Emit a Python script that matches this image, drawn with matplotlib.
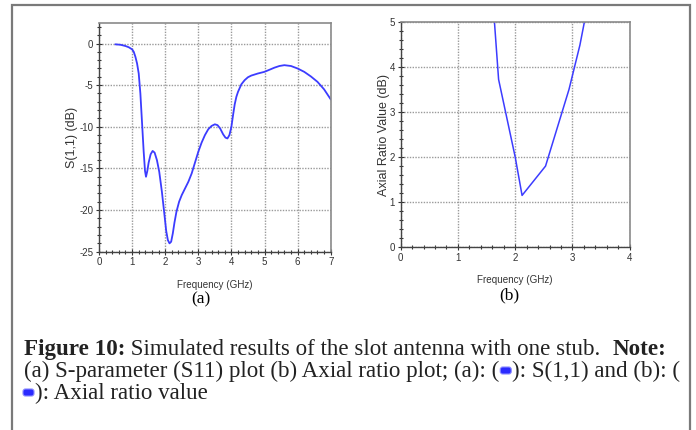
import matplotlib
matplotlib.use("Agg")
import matplotlib.pyplot as plt
from matplotlib.transforms import IdentityTransform
from matplotlib.patches import Rectangle, FancyBboxPatch
from matplotlib.ticker import MultipleLocator

plt.rcParams["axes.unicode_minus"] = False

# ---- data (a): S(1,1) ----
s11_freq = [0.5, 0.65, 0.8, 0.9, 1.0, 1.05, 1.1, 1.15, 1.2, 1.25, 1.3, 1.35, 1.39,
            1.42, 1.46, 1.5, 1.56, 1.62, 1.68, 1.75, 1.82, 1.9, 1.97, 2.03, 2.08,
            2.13, 2.18, 2.23, 2.28, 2.34, 2.42, 2.5, 2.6, 2.7, 2.8, 2.9, 3.0, 3.1,
            3.2, 3.3, 3.4, 3.5, 3.58, 3.66, 3.75, 3.82, 3.88, 3.94, 4.0, 4.05, 4.1,
            4.15, 4.2, 4.3, 4.4, 4.5, 4.6, 4.8, 5.0, 5.15, 5.3, 5.45, 5.6, 5.8, 6.0,
            6.2, 6.4, 6.6, 6.8, 7.0]
s11_db = [-0.1, -0.15, -0.3, -0.45, -0.7, -1.0, -1.6, -2.4, -3.6, -6.0, -9.5, -13.0,
          -15.3, -16.0, -15.3, -14.3, -13.3, -12.9, -13.1, -14.0, -15.4, -17.8,
          -20.3, -22.5, -23.6, -24.0, -23.8, -22.8, -21.5, -20.2, -19.0, -18.2,
          -17.4, -16.6, -15.6, -14.3, -13.0, -11.9, -11.0, -10.3, -9.9, -9.7, -9.8,
          -10.2, -10.9, -11.3, -11.4, -11.0, -10.0, -8.6, -7.3, -6.4, -5.8, -4.9,
          -4.4, -4.05, -3.85, -3.6, -3.4, -3.15, -2.9, -2.7, -2.6, -2.7, -3.0,
          -3.4, -3.95, -4.6, -5.5, -6.7]

# ---- data (b): axial ratio ----
ar_freq = [1.62, 1.71, 2.0, 2.12, 2.53, 2.94, 3.13, 3.24]
ar_db = [5.3, 3.72, 2.0, 1.15, 1.8, 3.5, 4.48, 5.2]

a_xticks = [0, 1, 2, 3, 4, 5, 6, 7]
a_yticks = [0, -5, -10, -15, -20, -25]
b_xticks = [0, 1, 2, 3, 4]
b_yticks = [0, 1, 2, 3, 4, 5]

W, H = 696, 430
fig = plt.figure(figsize=(W / 100, H / 100), dpi=100)
fig.patch.set_facecolor("white")

LINE = "#3c3cff"
TICKC = "#333333"
sans = ["Liberation Sans", "DejaVu Sans"]


def ax_at(l, r, t, b):
    return fig.add_axes([l / W, 1 - b / H, (r - l) / W, (b - t) / H])


def style(ax, xmin, ymin):
    ax.grid(True, which="major", color="#9a9a9a", linestyle=(0, (1, 1)), linewidth=1.0)
    ax.set_axisbelow(True)
    for s in ("top", "right"):
        ax.spines[s].set_color("#8a8a8a")
        ax.spines[s].set_linewidth(1.2)
    for s in ("left", "bottom"):
        ax.spines[s].set_color("#444444")
        ax.spines[s].set_linewidth(1.0)
    ax.tick_params(which="major", direction="inout", length=4, width=0.8, color=TICKC,
                   labelsize=7, labelcolor=TICKC, pad=2)
    ax.tick_params(which="minor", direction="inout", length=2.5, width=0.8, color=TICKC)
    ax.xaxis.set_minor_locator(MultipleLocator(xmin))
    ax.yaxis.set_minor_locator(MultipleLocator(ymin))
    for lab in ax.get_xticklabels() + ax.get_yticklabels():
        lab.set_family(sans)


# ---- panel (a) ----
axa = ax_at(99, 330.7, 22.7, 251.7)
axa.plot(s11_freq, s11_db, color=LINE, linewidth=1.3)
axa.set_xlim(0, 7)
axa.set_ylim(-25, 2.5)
axa.set_xticks(a_xticks)
axa.set_yticks(a_yticks)
style(axa, 0.2, 1.0)
axa.set_xlabel("Frequency (GHz)", fontsize=7.1, family=sans, color="#333333", labelpad=9)
axa.set_ylabel("S(1,1) (dB)", fontsize=9, family=sans, color="#333333", labelpad=1)

# ---- panel (b) ----
axb = ax_at(400.7, 629.7, 21.7, 247.3)
axb.plot(ar_freq, ar_db, color=LINE, linewidth=1.1)
axb.set_xlim(0, 4)
axb.set_ylim(0, 5)
axb.set_xticks(b_xticks)
axb.set_yticks(b_yticks)
style(axb, 0.2, 0.2)
axb.set_xlabel("Frequency (GHz)", fontsize=7.1, family=sans, color="#333333", labelpad=9)
axb.set_ylabel("Axial Ratio Value (dB)", fontsize=9, family=sans, color="#333333", labelpad=0)

# panel letters
fig.text(201 / W, 1 - 299 / H, "(a)", fontsize=12.5, family="Liberation Serif",
         ha="center", va="center")
fig.text(509 / W, 1 - 295 / H, "(b)", fontsize=12.5, family="Liberation Serif",
         ha="center", va="center")

# border
fig.patches.append(Rectangle((12, -5), 678, H, transform=IdentityTransform(),
                             fill=False, edgecolor="#7a7a7a", linewidth=1.6))

# ---- caption ----
renderer = fig.canvas.get_renderer()
CAPFS = 16.6
SERIF = "Liberation Serif"


def put(x, y, s, bold=False):
    t = fig.text(x, H - y, s, transform=IdentityTransform(), fontsize=CAPFS,
                 family=SERIF, fontweight="bold" if bold else "normal",
                 va="baseline", ha="left", color="#222222")
    return t.get_window_extent(renderer).x1


def marker(x, y):
    w, h = 11, 7
    p = FancyBboxPatch((x + 1, H - y + 3), w, h, boxstyle="round,pad=0,rounding_size=2.5",
                       transform=IdentityTransform(), facecolor="#2a2aff",
                       edgecolor="#8888ff", linewidth=0.8)
    fig.patches.append(p)
    return x + w + 2


x0 = 24
y1, y2, y3 = 355, 377, 399
x = put(x0, y1, "Figure 10:", bold=True)
x = put(x, y1, " Simulated results of the slot antenna with one stub.  ")
x = put(x, y1, "Note:", bold=True)

x = put(x0, y2, "(a) S-parameter (S11) plot (b) Axial ratio plot; (a): (")
x = marker(x, y2)
x = put(x, y2, "): S(1,1) and (b): (")

x = marker(x0 - 2, y3)
x = put(x, y3, "): Axial ratio value")

fig.savefig("out.png", dpi=100)
